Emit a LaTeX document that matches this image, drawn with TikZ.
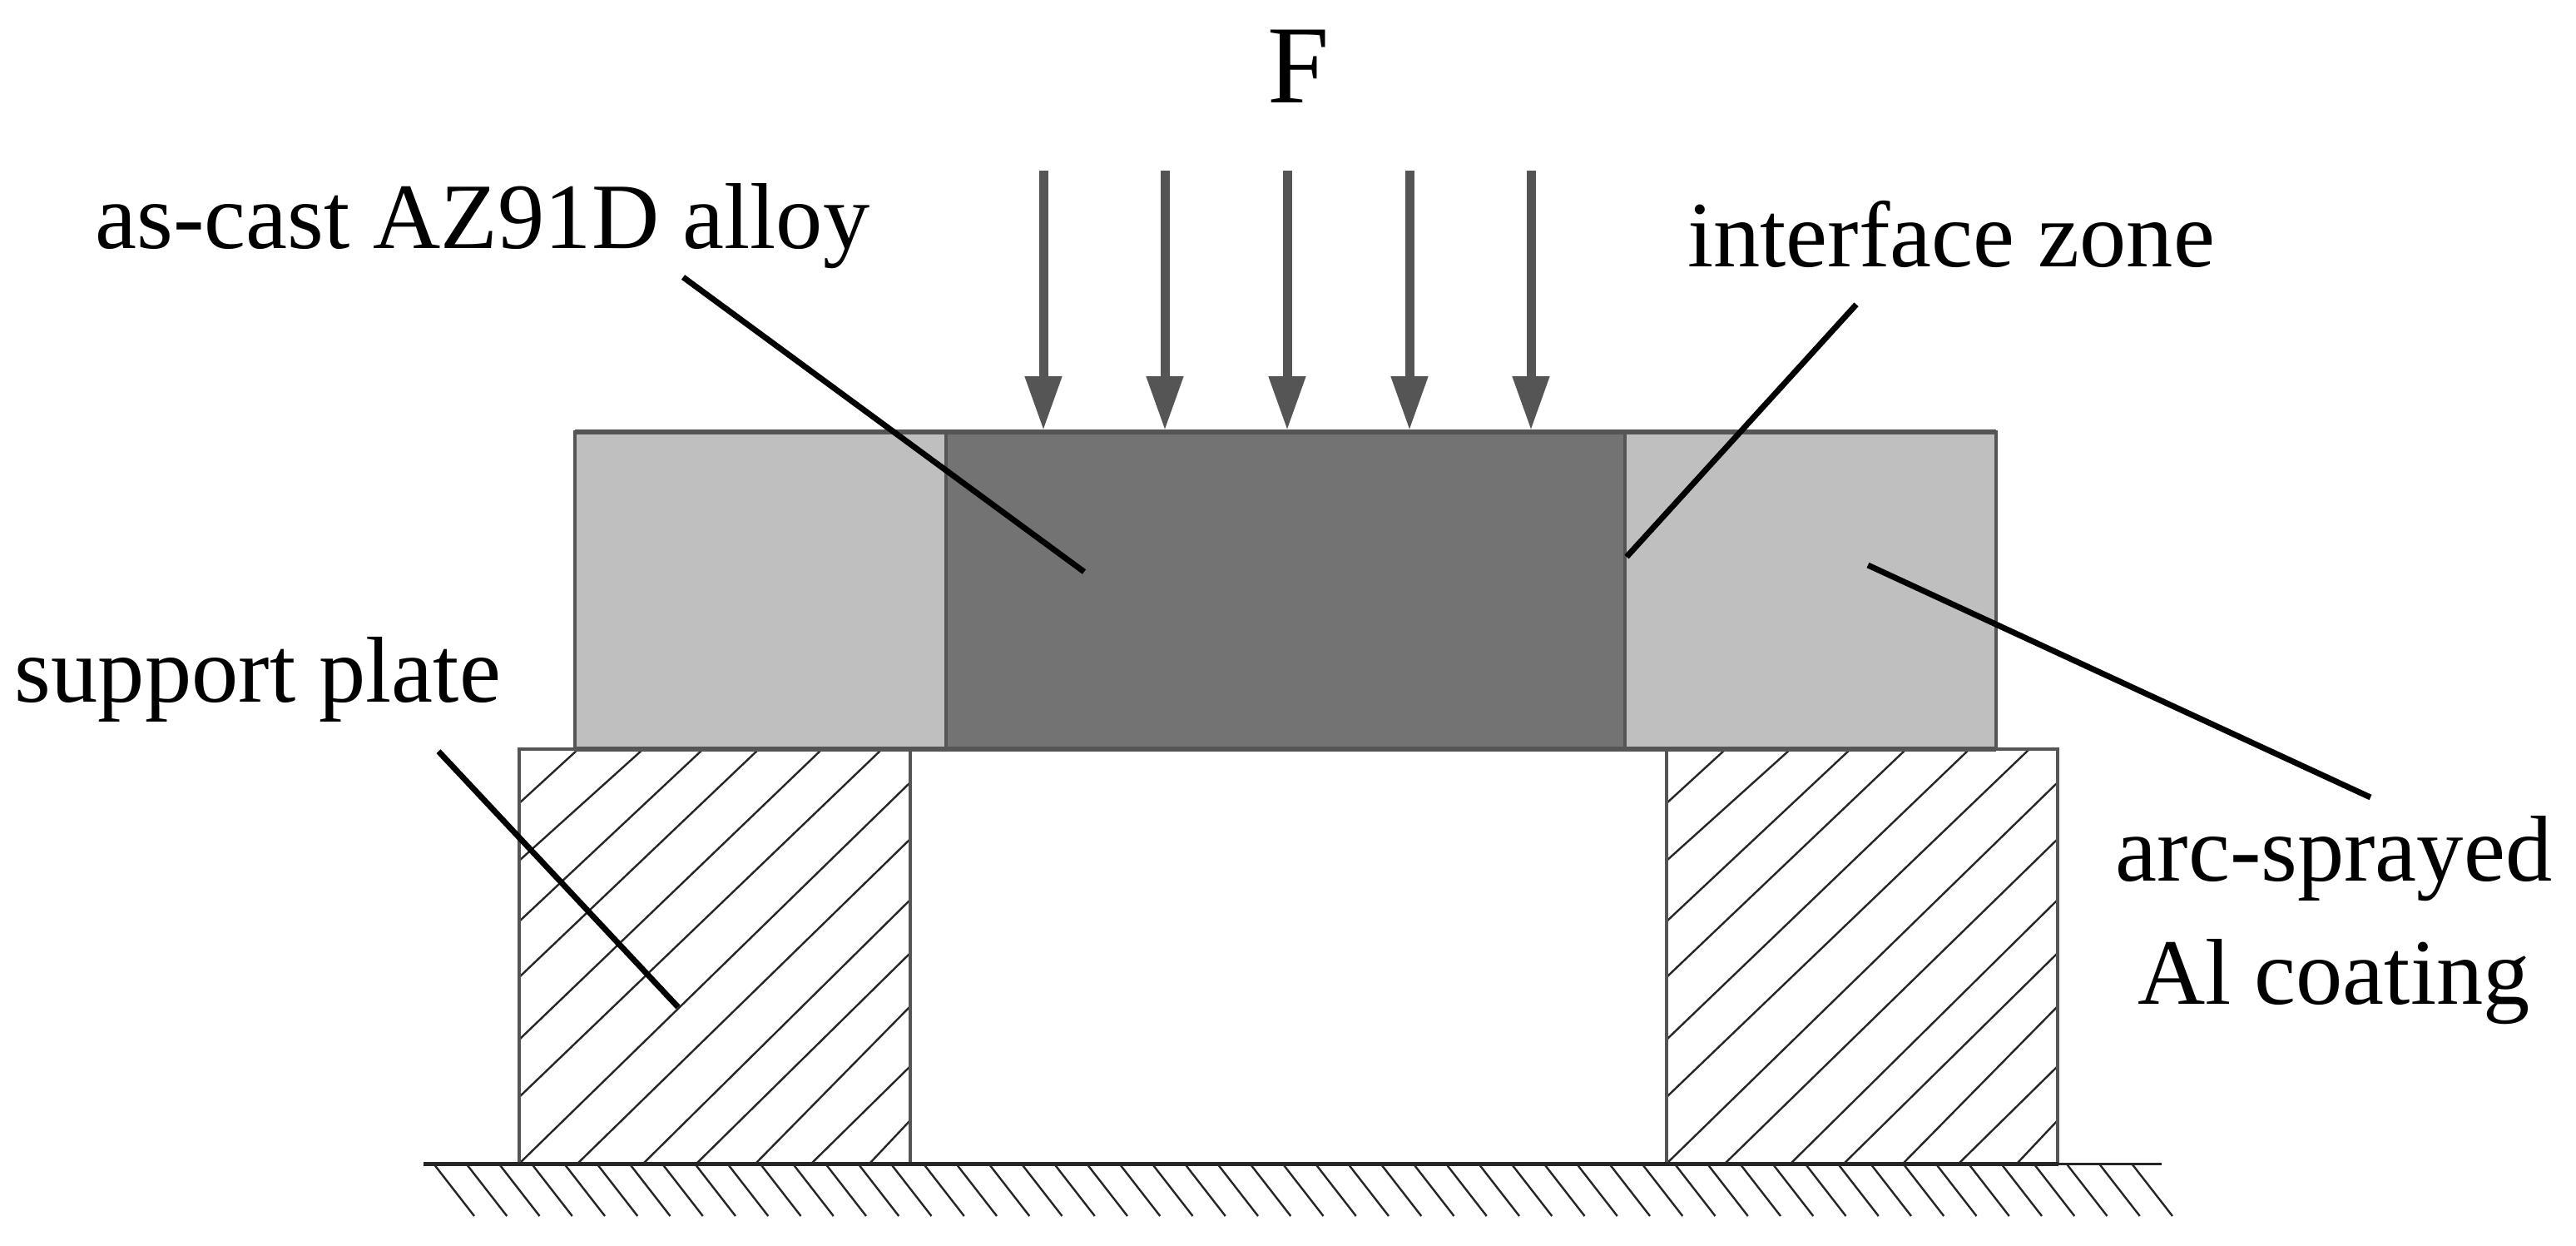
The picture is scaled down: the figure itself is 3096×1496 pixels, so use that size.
\documentclass[tikz,border=0pt]{standalone}
\usepackage{fontspec}
\setmainfont{Liberation Serif}
\usetikzlibrary{arrows.meta}

\definecolor{edgegray}{HTML}{555555}
\definecolor{coatgray}{HTML}{BFBFBF}
\definecolor{alloygray}{HTML}{737373}

\tikzset{
  lbl/.style={inner sep=0pt,font=\fontsize{32}{42}\selectfont,align=center},
  outline/.style={draw=edgegray,line width=0.35mm},
  hatchline/.style={draw=black!85,line width=0.24mm},
  force/.style={draw=edgegray,line width=1.1mm,-{Triangle[width=4.2mm,length=6.5mm,fill=edgegray]}},
  leader/.style={draw=black,line width=0.7mm},
}

\begin{document}
\begin{tikzpicture}[x=0.1mm,y=-0.1mm]
        \useasboundingbox (0,0) rectangle (3096,1496);

        % support plates
        \foreach \dx in {0,1379} {
            \foreach \ya/\xa in {965/695,1034/773,1107/845,1174/912,1249/988,1318/1060}
                \draw [hatchline] (624+\dx,\ya) -- (\xa+\dx,900);
            \foreach \xb/\yb in {624/940,694/1008,773/1081,837/1145,908/1209,975/1281,1045/1346}
                \draw [hatchline] (\xb+\dx,1398) -- (1094+\dx,\yb);
            \draw [outline] (624+\dx,1398) rectangle (1094+\dx,900);
        }

        % ground
        \foreach \i in {0,...,52}
            \draw [hatchline] (521+39.25*\i,1398) -- ++(49,63);
        \draw [draw=black!85,line width=0.3mm] (509,1398) -- (2598,1398);
        \draw [draw=black!85,line width=0.5mm] (509,1398) -- (2474,1398);

        % specimen
        \draw [outline,fill=coatgray] (691,519) rectangle (1137,900);
        \draw [outline,fill=coatgray] (1953,519) rectangle (2399,900);
        \draw [outline,fill=alloygray] (1137,519) rectangle (1953,900);
        \draw [draw=edgegray,line width=0.6mm] (691,519) -- (2399,519);
        \draw [draw=edgegray,line width=0.6mm] (691,900) -- (2399,900);

        % load
        \foreach \x in {1254,1400,1547,1694,1840}
            \draw [force] (\x,205) -- (\x,517);

        % labels
        \node [lbl,font=\fontsize{38}{42}\selectfont,anchor=base] (lblForce) at (1561,123) {F};
        \node [lbl,anchor=base] (lblAlloy) at (580,298) {as-cast AZ91D alloy};
        \node [lbl,anchor=base] (lblZone) at (2345,320) {interface zone};
        \node [lbl,anchor=base] (lblPlate) at (310,843) {support plate};
        \node [lbl,anchor=north] (lblCoat) at (2805,980) {arc-sprayed\\Al coating};

        \coordinate (alloyEnd) at (1303,687);
        \coordinate (zoneEnd) at (1955,669);
        \coordinate (plateEnd) at (815,1210);
        \coordinate (coatEnd) at (2245,679);

        \draw [leader] ([shift={(241,10)}]lblAlloy.south) -- (alloyEnd);
        \draw [leader] ([shift={(-114,44)}]lblZone.south) -- (zoneEnd);
        \draw [leader] ([shift={(217,35)}]lblPlate.south) -- (plateEnd);
        \draw [leader] ([shift={(44,-22)}]lblCoat.north) -- (coatEnd);
    \end{tikzpicture}
\end{document}
